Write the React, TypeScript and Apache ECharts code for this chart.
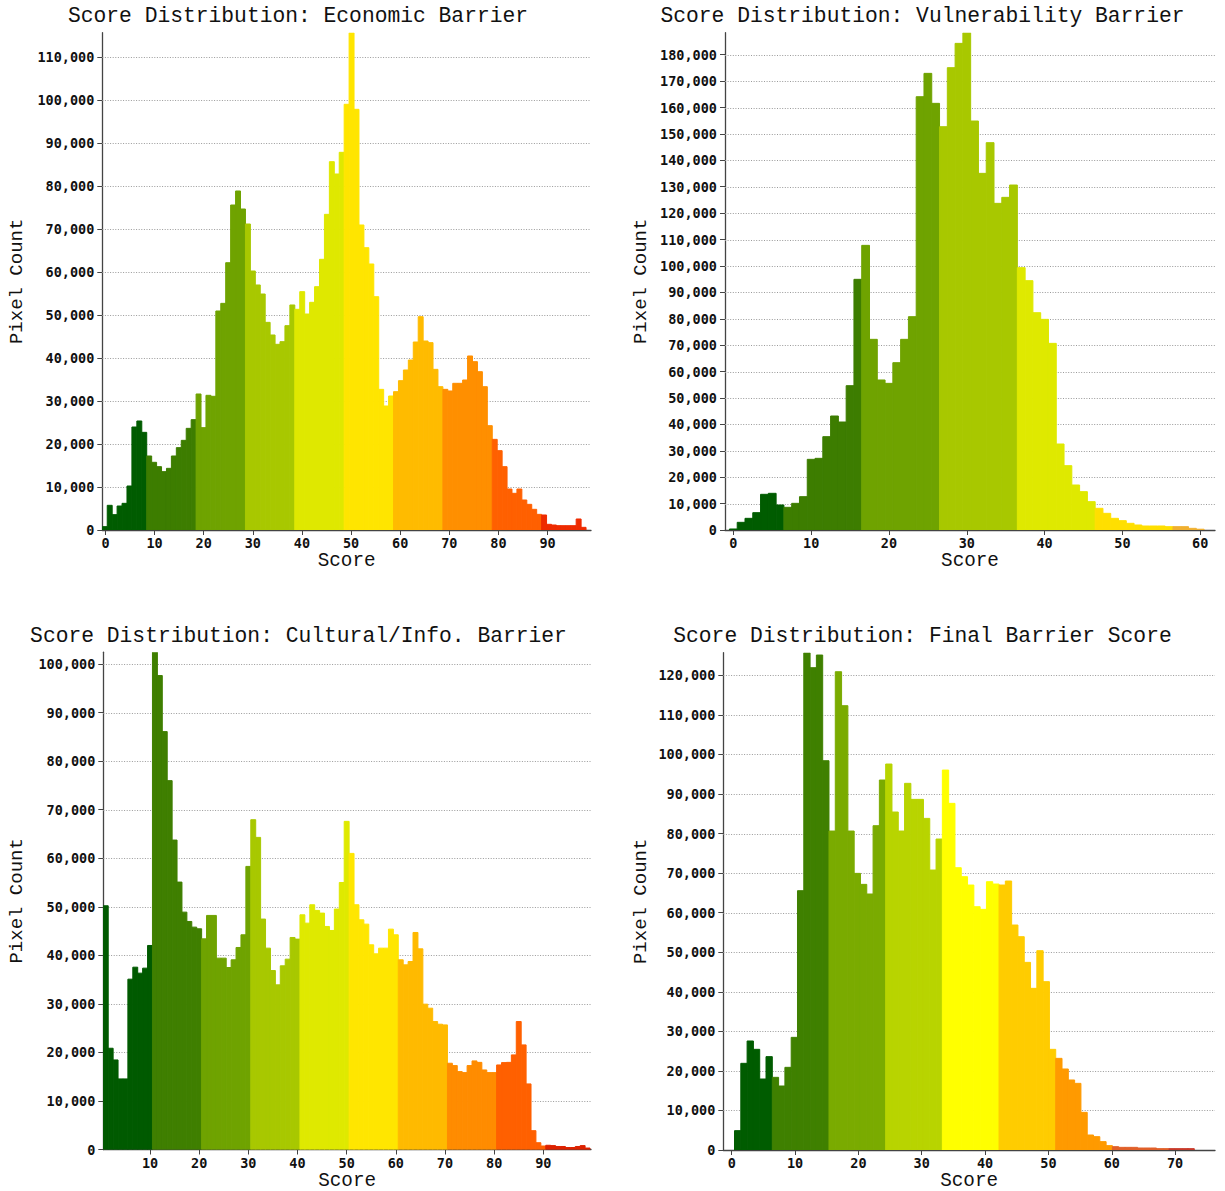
import { useEffect, useRef } from 'react';
import * as echarts from 'echarts';

// ---------- Economic barrier: 99 equal-width bins ----------
const economicBinStart = -0.65;
const economicBinWidth = 1.005;
const economicCounts = [
  775, 5740, 3570, 5580, 6200, 10230, 23950, 25350, 22710,
  17210, 15740, 14730, 13570, 14340, 17210, 19150, 20850, 23640, 25660,
  31630, 23800, 31320, 31090, 50930, 52710, 62160, 75580, 78840, 74650,
  71160, 60230, 56980, 54880, 48290, 45350, 43180, 43800, 47520, 52330,
  51320, 55430, 50230, 52950, 56590, 62950, 73410, 85660, 82790, 87830,
  99000, 115650, 97830, 70930, 65660, 61860, 54260, 32710, 28840, 31160,
  32170, 34730, 37210, 39530, 43720, 49610, 43950, 43570, 37360, 33330,
  32710, 32330, 34110, 34110, 34880, 40470, 39150, 36820, 33330, 24260,
  21080, 18450, 14730, 9530, 8530, 9530, 6980, 5970, 4810, 3640,
  3490, 1320, 1160, 1010, 1000, 1000, 1000, 2560, 620,
];
const economicColourEdges = [8.4, 18.45, 28.5, 38.55, 48.6, 58.65, 68.7, 78.75, 88.8];
const economicColours = ['#005c00', '#3d7d00', '#6fa300', '#a8c800', '#dfe800', '#ffe500', '#ffbb00', '#ff8f00', '#ff6000', '#ee2b00'];
const economicXRange = [-0.65, 98.85];
const economicXTicks = [0, 10, 20, 30, 40, 50, 60, 70, 80, 90];
const economicYTicks = [0, 10000, 20000, 30000, 40000, 50000, 60000, 70000, 80000, 90000, 100000, 110000];

// ---------- Vulnerability barrier: unit bins centred on integer scores ----------
const vulnerabilityBinStart = -0.5;
const vulnerabilityBinWidth = 1;
const vulnerabilityCounts = [
  380, 2900, 4420, 6560, 13510, 13890, 9470,
  8590, 10100, 12620, 26760, 27140, 35350, 43170, 40900, 54660, 94930,
  107800, 72210, 56810, 55540, 63370, 72210, 80790, 164100, 172940, 161580,
  152740, 175090, 184300, 188340, 154890, 135070, 146690, 123710, 125980, 130650,
  99350, 94430, 82300, 79780, 70690, 32570, 24360, 17040, 14520, 10730,
  8210, 6310, 4420, 3530, 2530, 1890, 1510, 1510, 1510, 1260,
  1260, 1260, 630, 300,
];
const vulnerabilityColourEdges = [6.5, 16.5, 26.5, 36.5, 46.5, 56.5];
const vulnerabilityColours = ['#005c00', '#3d7d00', '#6fa300', '#a8c800', '#dfe900', '#ffdf00', '#f0b030'];
const vulnerabilityXRange = [-1.07, 61.9];
const vulnerabilityXTicks = [0, 10, 20, 30, 40, 50, 60];
const vulnerabilityYTicks = [
  0, 10000, 20000, 30000, 40000, 50000, 60000, 70000, 80000, 90000,
  100000, 110000, 120000, 130000, 140000, 150000, 160000, 170000, 180000,
];

// ---------- Cultural / information barrier: unit bins, scores 1..99 ----------
const culturalBinStart = 0.5;
const culturalBinWidth = 1;
const culturalCounts = [
  50210, 20860, 18450, 14540, 14540, 35090, 37560, 36330, 37360, 42030,
  102450, 97640, 86090, 75990, 63750, 55090, 48900, 46980, 45810, 45470,
  43400, 48220, 48220, 39420, 39420, 37490, 39080, 41620, 44230, 58320,
  67940, 64300, 47470, 41480, 36870, 33920, 37840, 39210, 43680, 43340,
  48350, 46630, 50420, 49250, 48700, 45950, 45120, 49530, 55010, 67600,
  61000, 50420, 47320, 46430, 42170, 40310, 41480, 41480, 45400, 44230,
  39080, 38040, 38730, 44710, 41340, 29940, 29110, 26360, 25810, 25670,
  17770, 17290, 16050, 15840, 17290, 18250, 17950, 16390, 15840, 15840,
  17420, 17900, 17950, 19490, 26360, 21550, 13510, 3880, 1400, 720,
  870, 800, 620, 620, 410, 410, 620, 800, 300,
];
const culturalColourEdges = [10.5, 20.5, 30.5, 40.5, 50.5, 60.5, 70.5, 80.5, 90.5];
const culturalColours = ['#005a00', '#3f7f00', '#6fa300', '#a8c800', '#dfe900', '#ffe600', '#ffba00', '#ff8c00', '#ff6000', '#dd2200'];
const culturalXRange = [0.5, 99.7];
const culturalXTicks = [10, 20, 30, 40, 50, 60, 70, 80, 90];
const culturalYTicks = [0, 10000, 20000, 30000, 40000, 50000, 60000, 70000, 80000, 90000, 100000];

// ---------- Final barrier score: 73 equal-width bins ----------
const finalBinStart = 0.44;
const finalBinWidth = 0.9944;
const finalCounts = [
  4890, 21910, 27560, 25450, 17950, 23600,
  18370, 16180, 20900, 28480, 65560, 125730, 121940, 125140, 98420,
  80640, 120920, 112330, 80640, 69940, 67160, 64720, 81990, 93540,
  97580, 85450, 80640, 92700, 88650, 88650, 83840, 70780, 78620,
  96060, 87640, 71370, 69100, 66990, 61510, 60840, 67830, 67240,
  66990, 68000, 56880, 53930, 47440, 40870, 50390, 42560, 25450,
  23170, 20480, 17700, 16850, 9520, 3790, 3370, 2110, 1100,
  840, 670, 670, 670, 505, 505, 505, 340, 340,
  340, 340, 340, 340,
];
const finalColourEdges = [6.41, 15.36, 24.31, 33.26, 42.2, 51.15, 60.1, 69.05];
const finalColours = ['#005c00', '#3f8000', '#7aab00', '#b8d400', '#ffff00', '#ffcc00', '#ff9a00', '#e0602a', '#c83a2a'];
const finalXRange = [-1.33, 76.3];
const finalXTicks = [0, 10, 20, 30, 40, 50, 60, 70];
const finalYTicks = [0, 10000, 20000, 30000, 40000, 50000, 60000, 70000, 80000, 90000, 100000, 110000, 120000];

const panels = [
  {
    title: 'Score Distribution: Economic Barrier',
    binStart: economicBinStart, binWidth: economicBinWidth, counts: economicCounts,
    edges: economicColourEdges, colours: economicColours,
    xRange: economicXRange, xTicks: economicXTicks, yTicks: economicYTicks,
  },
  {
    title: 'Score Distribution: Vulnerability Barrier',
    binStart: vulnerabilityBinStart, binWidth: vulnerabilityBinWidth, counts: vulnerabilityCounts,
    edges: vulnerabilityColourEdges, colours: vulnerabilityColours,
    xRange: vulnerabilityXRange, xTicks: vulnerabilityXTicks, yTicks: vulnerabilityYTicks,
  },
  {
    title: 'Score Distribution: Cultural/Info. Barrier',
    binStart: culturalBinStart, binWidth: culturalBinWidth, counts: culturalCounts,
    edges: culturalColourEdges, colours: culturalColours,
    xRange: culturalXRange, xTicks: culturalXTicks, yTicks: culturalYTicks,
  },
  {
    title: 'Score Distribution: Final Barrier Score',
    binStart: finalBinStart, binWidth: finalBinWidth, counts: finalCounts,
    edges: finalColourEdges, colours: finalColours,
    xRange: finalXRange, xTicks: finalXTicks, yTicks: finalYTicks,
  },
];

// Plot rectangles and text anchors for the 2x2 layout
const frames = [
  { left: 102.3, top: 32.7, width: 488.7, height: 497.3, titleX: 298, titleY: 16, yNameX: 17, xNameY: 561 },
  { left: 725, top: 32.7, width: 490, height: 497.3, titleX: 922.5, titleY: 16, yNameX: 641, xNameY: 561 },
  { left: 103.3, top: 652.2, width: 487.7, height: 497.3, titleX: 298.5, titleY: 636, yNameX: 17, xNameY: 1181 },
  { left: 723.3, top: 652.7, width: 491.7, height: 497.3, titleX: 922.5, titleY: 636, yNameX: 641, xNameY: 1181 },
];

const serifMono = "'Liberation Mono', 'DejaVu Sans Mono', monospace";
const tickFont = "'DejaVu Sans Mono', 'Liberation Mono', monospace";
const axisColour = '#444';

function binColour(centre: number, edges: number[], colours: string[]) {
  let band = 0;
  while (band < edges.length && centre > edges[band]) band++;
  return colours[band];
}

function withThousands(v: number) {
  return String(Math.round(v)).replace(/\B(?=(\d{3})+(?!\d))/g, ',');
}

function buildOption() {
  const series: any[] = [];
  panels.forEach((p, i) => {
    // dotted horizontal guides at each count tick
    series.push({
      type: 'custom',
      xAxisIndex: i,
      yAxisIndex: i,
      z: 1,
      silent: true,
      data: p.yTicks.filter((v) => v > 0).map((v) => [p.xRange[0], v]),
      encode: { x: 0, y: 1 },
      renderItem: (params: any, api: any) => {
        const cs = params.coordSys;
        const y = Math.round(api.coord([api.value(0), api.value(1)])[1]) + 0.5;
        return {
          type: 'line',
          shape: { x1: cs.x, y1: y, x2: cs.x + cs.width, y2: y },
          style: { stroke: '#9a9a9a', lineWidth: 1, lineDash: [1, 1.6] },
        };
      },
    });
    // histogram bins; a same-colour outline closes the hairline seams between neighbours
    const colours = p.counts.map((_, k) => binColour(p.binStart + (k + 0.5) * p.binWidth, p.edges, p.colours));
    series.push({
      type: 'custom',
      xAxisIndex: i,
      yAxisIndex: i,
      z: 3,
      clip: true,
      silent: true,
      data: p.counts.map((c, k) => [p.binStart + k * p.binWidth, p.binStart + (k + 1) * p.binWidth, c]),
      encode: { x: [0, 1], y: 2 },
      renderItem: (params: any, api: any) => {
        const topLeft = api.coord([api.value(0), api.value(2)]);
        const bottomRight = api.coord([api.value(1), 0]);
        const fill = colours[params.dataIndex];
        return {
          type: 'rect',
          shape: {
            x: topLeft[0],
            y: topLeft[1],
            width: bottomRight[0] - topLeft[0],
            height: bottomRight[1] - topLeft[1],
          },
          style: { fill, stroke: fill, lineWidth: 1 },
        };
      },
    });
  });

  const graphic: any[] = [];
  panels.forEach((p, i) => {
    const f = frames[i];
    graphic.push({
      type: 'text',
      x: f.titleX,
      y: f.titleY,
      style: {
        text: p.title,
        font: `21.3px ${serifMono}`,
        fill: '#111',
        align: 'center',
        verticalAlign: 'middle',
        textAlign: 'center',
        textVerticalAlign: 'middle',
      },
    });
    graphic.push({
      type: 'text',
      x: f.left + f.width / 2,
      y: f.xNameY,
      style: {
        text: 'Score',
        font: `19.3px ${serifMono}`,
        fill: '#111',
        align: 'center',
        verticalAlign: 'middle',
        textAlign: 'center',
        textVerticalAlign: 'middle',
      },
    });
    graphic.push({
      type: 'text',
      x: f.yNameX,
      y: f.top + f.height / 2,
      rotation: Math.PI / 2,
      style: {
        text: 'Pixel Count',
        font: `19px ${serifMono}`,
        fill: '#111',
        align: 'center',
        verticalAlign: 'middle',
        textAlign: 'center',
        textVerticalAlign: 'middle',
      },
    });
  });

  return {
    animation: false,
    backgroundColor: '#ffffff',
    grid: frames.map((f) => ({
      left: f.left,
      top: f.top,
      width: f.width,
      height: f.height,
      containLabel: false,
      outerBoundsMode: 'none',
    })),
    xAxis: panels.map((p, i) => ({
      type: 'value',
      gridIndex: i,
      min: p.xRange[0],
      max: p.xRange[1],
      axisLine: { show: true, onZero: false, lineStyle: { color: axisColour, width: 1.3 } },
      axisTick: { show: true, length: 5, customValues: p.xTicks, lineStyle: { color: axisColour, width: 1 } },
      axisLabel: {
        customValues: p.xTicks,
        margin: 6,
        fontFamily: tickFont,
        fontWeight: 'bold',
        fontSize: 13.5,
        color: '#111',
        formatter: (v: number) => (p.xTicks.includes(v) ? String(v) : ''),
      },
      splitLine: { show: false },
    })),
    yAxis: panels.map((p, i) => ({
      type: 'value',
      gridIndex: i,
      min: 0,
      max: Math.max(...p.counts),
      axisLine: { show: true, onZero: false, lineStyle: { color: axisColour, width: 1.3 } },
      axisTick: { show: true, length: 5, customValues: p.yTicks, lineStyle: { color: axisColour, width: 1 } },
      axisLabel: {
        customValues: p.yTicks,
        margin: 8,
        fontFamily: tickFont,
        fontWeight: 'bold',
        fontSize: 13.5,
        color: '#111',
        formatter: (v: number) => (p.yTicks.includes(v) ? withThousands(v) : ''),
      },
      splitLine: { show: false },
    })),
    series,
    graphic,
  };
}

export default function App() {
  const ref = useRef<HTMLDivElement>(null);
  useEffect(() => {
    if (!ref.current) return;
    const chart = echarts.init(ref.current, undefined, { renderer: 'svg' });
    chart.setOption(buildOption() as any);
    return () => chart.dispose();
  }, []);
  return (
    <div
      ref={ref}
      style={{ position: 'absolute', left: 0, top: 0, width: 1225, height: 1191, background: '#fff' }}
    />
  );
}
